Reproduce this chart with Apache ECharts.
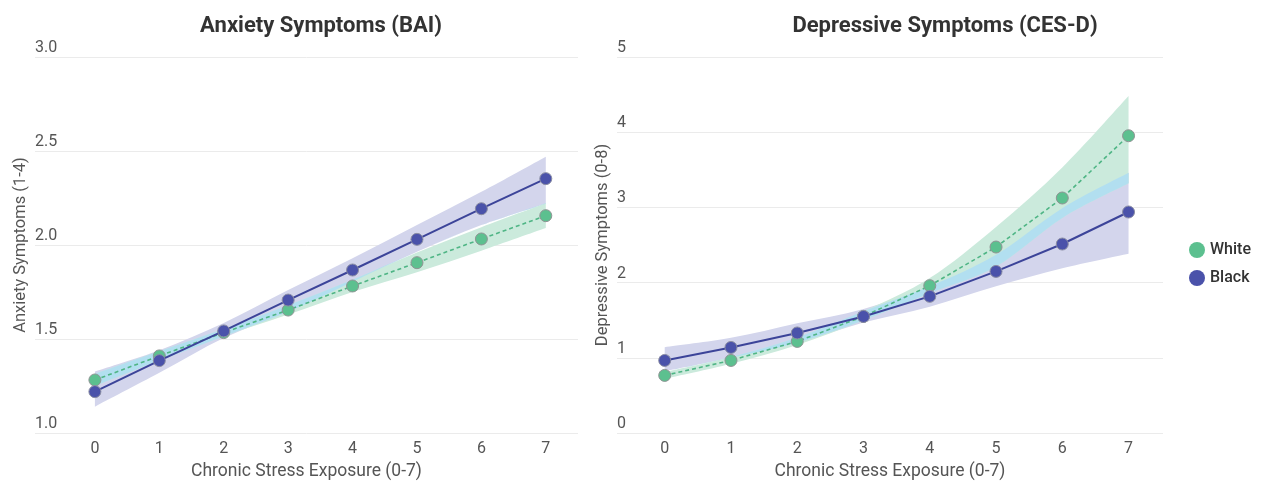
<!DOCTYPE html>
<html>
<head>
<meta charset="utf-8">
<script src="https://cdn.jsdelivr.net/npm/echarts@6/dist/echarts.min.js"></script>
<style>
html,body{margin:0;padding:0;background:#fff;}
#c{width:1264px;height:483px;}
</style>
</head>
<body>
<div id="c"></div>
<script>
// ---- data ----
const stress = [0, 1, 2, 3, 4, 5, 6, 7];
const groups = ['White', 'Black'];

// Anxiety (BAI)
const baiWhite   = [1.282, 1.41, 1.534, 1.654, 1.782, 1.906, 2.032, 2.156];
const baiWhiteLo = [1.25, 1.385, 1.515, 1.63, 1.75, 1.855, 1.97, 2.09];
const baiWhiteHi = [1.315, 1.435, 1.553, 1.68, 1.815, 1.96, 2.095, 2.222];
const baiBlack   = [1.22, 1.385, 1.543, 1.707, 1.867, 2.03, 2.193, 2.353];
const baiBlackLo = [1.14, 1.32, 1.505, 1.645, 1.805, 1.964, 2.106, 2.22];
const baiBlackHi = [1.327, 1.44, 1.585, 1.76, 1.93, 2.106, 2.283, 2.47];

// Depressive (CES-D)
const cesdWhite   = [0.766, 0.965, 1.218, 1.55, 1.959, 2.473, 3.125, 3.953];
const cesdWhiteLo = [0.72, 0.92, 1.17, 1.50, 1.86, 2.215, 2.86, 3.32];
const cesdWhiteHi = [0.81, 1.01, 1.27, 1.62, 2.06, 2.74, 3.53, 4.48];
const cesdBlack   = [0.965, 1.138, 1.33, 1.55, 1.817, 2.149, 2.513, 2.939];
const cesdBlackLo = [0.82, 1.0, 1.2, 1.47, 1.68, 1.95, 2.19, 2.384];
const cesdBlackHi = [1.14, 1.265, 1.46, 1.65, 1.95, 2.37, 2.99, 3.46];

const baiTicks = [1.0, 1.5, 2.0, 2.5, 3.0];
const cesdTicks = [0, 1, 2, 3, 4, 5];

// ---- helpers ----
const FONT = 'Roboto, "Noto Sans", sans-serif';
const C_WHITE = '#5cc08f', C_WHITE_LINE = '#4fb585';
const C_BLACK = '#4a52aa', C_BLACK_LINE = '#3c4499';
const BAND_BLACK = '#d3d5ec', BAND_WHITE = '#cbeadc', BAND_OVER = '#b2dff0';

function pairs(arr) { return stress.map((x, i) => [x, arr[i]]); }

// Catmull-Rom smoothed path through pixel points
function crPath(pts, moveFirst) {
  let d = (moveFirst ? 'M' : 'L') + pts[0][0] + ' ' + pts[0][1];
  const t = 0.5 / 3;
  for (let i = 0; i < pts.length - 1; i++) {
    const p0 = pts[Math.max(i - 1, 0)], p1 = pts[i], p2 = pts[i + 1], p3 = pts[Math.min(i + 2, pts.length - 1)];
    const c1x = p1[0] + (p2[0] - p0[0]) * t, c1y = p1[1] + (p2[1] - p0[1]) * t;
    const c2x = p2[0] - (p3[0] - p1[0]) * t, c2y = p2[1] - (p3[1] - p1[1]) * t;
    d += ' C' + c1x + ' ' + c1y + ' ' + c2x + ' ' + c2y + ' ' + p2[0] + ' ' + p2[1];
  }
  return d;
}

function band(lo, hi, color, ax) {
  return {
    type: 'custom', xAxisIndex: ax, yAxisIndex: ax, silent: true, z: 1,
    data: stress.map((x, i) => [x, lo[i], hi[i]]),
    encode: { x: 0, y: [1, 2] },
    renderItem: function (params, api) {
      if (params.dataIndexInside !== 0) return null;
      const n = params.dataInsideLength;
      const up = [], dn = [];
      for (let i = 0; i < n; i++) {
        const x = api.value(0, i);
        up.push(api.coord([x, api.value(2, i)]));
        dn.push(api.coord([x, api.value(1, i)]));
      }
      dn.reverse();
      const d = crPath(up, true) + ' ' + crPath(dn, false) + ' Z';
      return { type: 'path', shape: { pathData: d }, style: { fill: color, stroke: null } };
    }
  };
}
function overlap(loA, hiA, loB, hiB) {
  const lo = loA.map((v, i) => Math.max(v, loB[i]));
  const hi = hiA.map((v, i) => Math.max(lo[i], Math.min(v, hiB[i])));
  return [lo, hi];
}
function lines(white, black, ax) {
  return [
    { type: 'line', name: 'White', xAxisIndex: ax, yAxisIndex: ax, data: pairs(white),
      symbol: 'circle', symbolSize: 12, z: 5,
      lineStyle: { color: C_WHITE_LINE, width: 1.6, type: [4, 3] },
      itemStyle: { color: C_WHITE, borderColor: '#8f9494', borderWidth: 1 } },
    { type: 'line', name: 'Black', xAxisIndex: ax, yAxisIndex: ax, data: pairs(black),
      symbol: 'circle', symbolSize: 12, z: 6,
      lineStyle: { color: C_BLACK_LINE, width: 2 },
      itemStyle: { color: C_BLACK, borderColor: '#8a8da3', borderWidth: 1 } }
  ];
}

const ovBai = overlap(baiBlackLo, baiBlackHi, baiWhiteLo, baiWhiteHi);
const ovCesd = overlap(cesdBlackLo, cesdBlackHi, cesdWhiteLo, cesdWhiteHi);

function xAxis(gi, min, max) {
  return {
    type: 'value', gridIndex: gi, min: min, max: max,
    axisLine: { show: false }, axisTick: { show: false }, splitLine: { show: false },
    axisLabel: { customValues: stress, color: '#555', fontSize: 16, fontFamily: FONT, margin: 8 },
    name: 'Chronic Stress Exposure (0-7)', nameLocation: 'middle', nameGap: 30,
    nameTextStyle: { color: '#555', fontSize: 17.5, fontFamily: FONT }
  };
}
function yAxis(gi, min, max, interval, name, fmt) {
  return {
    type: 'value', gridIndex: gi, min: min, max: max, interval: interval,
    axisLine: { show: false }, axisTick: { show: false },
    splitLine: { lineStyle: { color: '#ebebeb', width: 1 } },
    axisLabel: { inside: true, margin: 0, align: 'left', verticalAlign: 'bottom',
      padding: [0, 0, 1, 0], color: '#555', fontSize: 16, fontFamily: FONT, formatter: fmt },
    name: name, nameLocation: 'middle', nameGap: 6,
    nameTextStyle: { color: '#555', fontSize: 16.5, fontFamily: FONT }
  };
}

const chart = echarts.init(document.getElementById('c'));
chart.setOption({
  backgroundColor: '#fff',
  animation: false,
  title: [
    { text: 'Anxiety Symptoms (BAI)', left: 316, top: 10, textAlign: 'center',
      textStyle: { fontSize: 22, fontWeight: 'bold', color: '#333', fontFamily: FONT } },
    { text: 'Depressive Symptoms (CES-D)', left: 940, top: 10, textAlign: 'center',
      textStyle: { fontSize: 22, fontWeight: 'bold', color: '#333', fontFamily: FONT } }
  ],
  legend: {
    data: groups, orient: 'vertical', left: 1184, top: 237, itemGap: 12,
    icon: 'circle', itemWidth: 16, itemHeight: 16,
    itemStyle: { borderWidth: 0 },
    textStyle: { color: '#333', fontSize: 16, fontWeight: 500, fontFamily: FONT }
  },
  grid: [
    { left: 35, right: 686, top: 57, bottom: 50, outerBoundsMode: 'none', containLabel: false },
    { left: 617, right: 101, top: 57, bottom: 50, outerBoundsMode: 'none', containLabel: false }
  ],
  xAxis: [xAxis(0, -0.93, 7.5), xAxis(1, -0.72, 7.52)],
  yAxis: [
    yAxis(0, baiTicks[0], baiTicks[baiTicks.length - 1], 0.5, 'Anxiety Symptoms (1-4)', v => v.toFixed(1)),
    yAxis(1, cesdTicks[0], cesdTicks[cesdTicks.length - 1], 1, 'Depressive Symptoms (0-8)', v => String(v))
  ],
  series: [
    band(baiBlackLo, baiBlackHi, BAND_BLACK, 0),
    band(baiWhiteLo, baiWhiteHi, BAND_WHITE, 0),
    band(ovBai[0], ovBai[1], BAND_OVER, 0),
    band(cesdBlackLo, cesdBlackHi, BAND_BLACK, 1),
    band(cesdWhiteLo, cesdWhiteHi, BAND_WHITE, 1),
    band(ovCesd[0], ovCesd[1], BAND_OVER, 1)
  ].concat(lines(baiWhite, baiBlack, 0), lines(cesdWhite, cesdBlack, 1))
});
</script>
</body>
</html>
